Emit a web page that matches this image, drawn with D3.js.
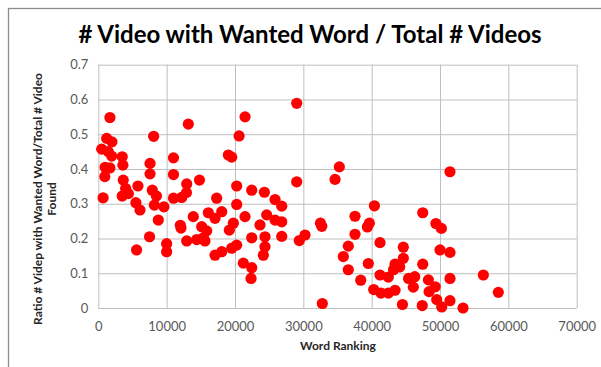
<!DOCTYPE html>
<html>
<head>
<meta charset="utf-8">
<script src="https://cdn.jsdelivr.net/npm/d3@7"></script>
<style>
  body { margin: 0; background: #fff; }
  text { font-family: Lato, "Open Sans", sans-serif; }
  .tick text { fill: #595959; font-size: 13px; }
  .tick line { stroke: #bfbfbf; }
  .title { font-weight: bold; font-size: 24px; fill: #000; }
  .axis-title { font-weight: bold; font-size: 12px; fill: #262626; }
</style>
</head>
<body>
<svg width="601" height="367"></svg>
<script>
// Chart data
const xTicks = [0, 10000, 20000, 30000, 40000, 50000, 60000, 70000];
const yTicks = [0, 0.1, 0.2, 0.3, 0.4, 0.5, 0.6, 0.7];

const wordRanking = [
    500, 700, 950, 1000, 1230, 1700, 1700, 1460, 2000, 1960,
    3500, 3600, 3650, 4000, 3500, 4400, 5800, 5500, 6100, 5600,
    7570, 7570, 8100, 7900, 8500, 8200, 9600, 8780, 7500, 10000,
    10000, 11000, 11000, 11000, 12200, 12900, 12940, 13170, 14800, 12000,
    12100, 12940, 13900, 14400, 15130, 15860, 15370, 15610, 16100, 17080,
    18060, 17320, 17080, 18060, 19030, 19520, 19170, 19760, 19520, 20250,
    20250, 20250, 20600, 21470, 21470, 21220, 22450, 22350, 22450, 22450,
    23660, 24300, 24640, 24390, 24390, 24150, 25860, 26840, 25860, 26840,
    26840, 29030, 29030, 29410, 30250, 32500, 32700, 32780, 35270, 34640,
    37560, 39660, 39370, 40400, 37560, 41220, 36580, 35850, 39510, 36580,
    38400, 40300, 41350, 42440, 43420, 41220, 42440, 43420, 44100, 43200,
    44630, 44630, 45400, 46300, 46090, 47470, 47470, 48300, 48400, 49300,
    49400, 50200, 50000, 51460, 51460, 51460, 56340, 58530, 44500, 47400,
    49520, 50250, 51460, 53370
];

const ratioFound = [
    0.457, 0.317, 0.378, 0.405, 0.488, 0.548, 0.403, 0.450, 0.478, 0.437,
    0.435, 0.411, 0.368, 0.344, 0.322, 0.329, 0.351, 0.303, 0.282, 0.167,
    0.416, 0.386, 0.494, 0.339, 0.322, 0.296, 0.291, 0.253, 0.205, 0.185,
    0.162, 0.432, 0.384, 0.316, 0.318, 0.332, 0.357, 0.529, 0.368, 0.238,
    0.230, 0.193, 0.263, 0.197, 0.234, 0.222, 0.202, 0.193, 0.274, 0.258,
    0.277, 0.316, 0.152, 0.162, 0.440, 0.434, 0.224, 0.244, 0.172, 0.181,
    0.351, 0.298, 0.495, 0.550, 0.263, 0.129, 0.116, 0.085, 0.202, 0.339,
    0.239, 0.333, 0.268, 0.205, 0.176, 0.152, 0.312, 0.293, 0.253, 0.248,
    0.206, 0.589, 0.363, 0.194, 0.210, 0.244, 0.235, 0.013, 0.406, 0.370,
    0.264, 0.244, 0.233, 0.294, 0.212, 0.188, 0.178, 0.148, 0.128, 0.110,
    0.080, 0.053, 0.043, 0.043, 0.051, 0.095, 0.089, 0.126, 0.118, 0.110,
    0.175, 0.143, 0.085, 0.090, 0.060, 0.274, 0.126, 0.081, 0.047, 0.061,
    0.243, 0.229, 0.167, 0.160, 0.392, 0.085, 0.095, 0.045, 0.010, 0.007,
    0.024, 0.003, 0.021, 0.000
];

const svg = d3.select("svg"),
    width = +svg.attr("width"),
    height = +svg.attr("height");

const plot = { left: 98.3, right: 576.7, top: 64.7, bottom: 308 };

const x = d3.scaleLinear().domain([0, 70000]).range([plot.left, plot.right]);
const y = d3.scaleLinear().domain([0, 0.7]).range([plot.bottom, plot.top]);

// outer chart frame (right and bottom edges run off the picture)
svg.append("rect")
    .attr("x", 8.5).attr("y", 8.5)
    .attr("width", width).attr("height", height)
    .attr("fill", "none")
    .attr("stroke", "#8c8c8c")
    .attr("stroke-width", 1.3);

// Axes with gridlines
const xAxis = svg.append("g")
    .attr("transform", `translate(0,${plot.bottom})`)
    .call(d3.axisBottom(x)
        .tickValues(xTicks)
        .tickSize(-(plot.bottom - plot.top))
        .tickPadding(14)
        .tickFormat(d => d));

const yAxis = svg.append("g")
    .attr("transform", `translate(${plot.left},0)`)
    .call(d3.axisLeft(y)
        .tickValues(yTicks)
        .tickSize(-(plot.right - plot.left))
        .tickPadding(10)
        .tickFormat(d => d));

svg.selectAll(".domain").remove();

// Points
svg.append("g")
    .selectAll("circle")
    .data(wordRanking.map((w, i) => ({ w: w, r: ratioFound[i] })))
    .join("circle")
    .attr("cx", d => x(d.w))
    .attr("cy", d => y(d.r))
    .attr("r", 5.6)
    .attr("fill", "#ff0000");

// Titles
svg.append("text")
    .attr("class", "title")
    .attr("x", 310)
    .attr("y", 43)
    .attr("text-anchor", "middle")
    .text("# Video with Wanted Word / Total # Videos");

svg.append("text")
    .attr("class", "axis-title")
    .attr("x", 338)
    .attr("y", 350)
    .attr("text-anchor", "middle")
    .text("Word Ranking");

const yTitle = svg.append("text")
    .attr("class", "axis-title")
    .attr("transform", "translate(42,199) rotate(-90)")
    .attr("text-anchor", "middle");

yTitle.append("tspan")
    .attr("x", 0).attr("y", 0)
    .text("Ratio # Videp with Wanted Word/Total # Video");

yTitle.append("tspan")
    .attr("x", 0).attr("y", 14)
    .text("Found");
</script>
</body>
</html>
